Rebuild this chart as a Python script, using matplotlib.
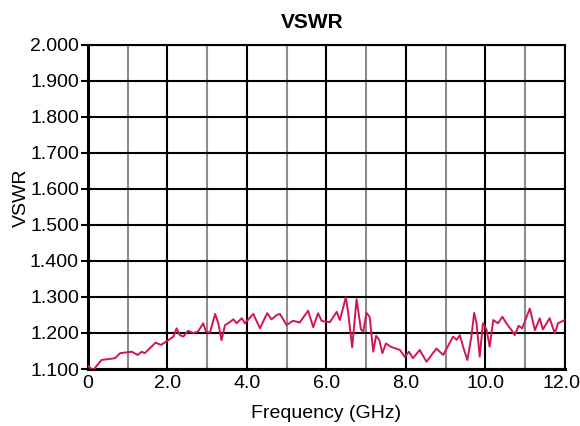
import matplotlib
matplotlib.use("Agg")
import matplotlib.pyplot as plt
from matplotlib.ticker import MultipleLocator, FixedLocator
from matplotlib.transforms import ScaledTranslation

plt.rcParams['font.family'] = ['Liberation Sans', 'DejaVu Sans']

# frequency (GHz) and VSWR
freq = [0.00, 0.13, 0.34, 0.68, 0.81, 1.10, 1.25, 1.35, 1.43, 1.70, 1.84,
        2.02, 2.15, 2.23, 2.31, 2.40, 2.52, 2.65, 2.77, 2.90, 2.97, 3.07,
        3.20, 3.28, 3.36, 3.45, 3.53, 3.66, 3.74, 3.87, 3.95, 4.16, 4.33,
        4.51, 4.62, 4.75, 4.83, 5.00, 5.16, 5.33, 5.54, 5.67, 5.79, 5.88,
        5.94, 6.09, 6.26, 6.34, 6.49, 6.55, 6.65, 6.76, 6.87, 6.93, 7.01,
        7.09, 7.18, 7.25, 7.33, 7.41, 7.50, 7.62, 7.72, 7.85, 7.97, 8.08,
        8.18, 8.35, 8.52, 8.77, 8.94, 9.19, 9.28, 9.36, 9.44, 9.55, 9.65,
        9.72, 9.78, 9.86, 9.94, 10.03, 10.11, 10.20, 10.32, 10.43, 10.53,
        10.66, 10.74, 10.84, 10.93, 11.12, 11.25, 11.37, 11.45, 11.62,
        11.75, 11.83, 11.96, 12.00]
vswr = [1.108, 1.097, 1.125, 1.130, 1.144, 1.148, 1.139, 1.148, 1.144, 1.173, 1.167,
        1.180, 1.190, 1.213, 1.194, 1.190, 1.206, 1.200, 1.204, 1.227, 1.204, 1.201,
        1.253, 1.227, 1.180, 1.222, 1.227, 1.238, 1.227, 1.241, 1.227, 1.253, 1.213,
        1.255, 1.238, 1.250, 1.253, 1.222, 1.234, 1.229, 1.262, 1.216, 1.255, 1.234,
        1.232, 1.230, 1.259, 1.236, 1.299, 1.255, 1.160, 1.294, 1.210, 1.204, 1.256,
        1.245, 1.148, 1.192, 1.181, 1.144, 1.171, 1.162, 1.158, 1.153, 1.134, 1.148,
        1.130, 1.153, 1.120, 1.157, 1.139, 1.190, 1.181, 1.194, 1.162, 1.125, 1.190,
        1.256, 1.227, 1.134, 1.227, 1.210, 1.162, 1.236, 1.227, 1.245, 1.227,
        1.208, 1.194, 1.220, 1.213, 1.268, 1.208, 1.241, 1.210, 1.241,
        1.199, 1.227, 1.234, 1.236]

x_major = [0, 2, 4, 6, 8, 10, 12]
x_labels = ['0', '2.0', '4.0', '6.0', '8.0', '10.0', '12.0']
x_minor = [1, 3, 5, 7, 9, 11]

fig = plt.figure(figsize=(5.8, 4.26), dpi=100)
ax = fig.add_axes([0.1517, 0.1338, 0.822, 0.7606])

ax.plot(freq, vswr, color='#d4145a', linewidth=1.4, zorder=3)

ax.set_xlim(0, 12)
ax.set_ylim(1.1, 2.0)
ax.set_xticks(x_major)
ax.set_xticklabels(x_labels)
ax.xaxis.set_minor_locator(FixedLocator(x_minor))
ax.yaxis.set_major_locator(MultipleLocator(0.1))
ax.yaxis.set_major_formatter(matplotlib.ticker.FormatStrFormatter('%.3f'))

ax.grid(which='major', color='black', linewidth=1.5, zorder=1)
ax.grid(which='minor', axis='x', color='#8c8c8c', linewidth=1.5, zorder=1)
ax.set_axisbelow(True)

ax.tick_params(axis='x', which='both', length=0, labelsize=14, pad=4.5)
ax.tick_params(axis='y', length=5, width=1.5, labelsize=14, pad=1.5)

# nudge the last x label so it stays inside the figure
last = ax.get_xticklabels()[-1]
last.set_transform(last.get_transform() + ScaledTranslation(-3 / 100, 0, fig.dpi_scale_trans))

for side in ['left', 'bottom']:
    ax.spines[side].set_linewidth(2.2)
for side in ['top', 'right']:
    ax.spines[side].set_linewidth(1.5)

ax.set_title('VSWR', fontsize=15, fontweight='bold', pad=12.5, x=0.47)
ax.set_xlabel('Frequency (GHz)', fontsize=14, labelpad=9)
ax.set_ylabel('VSWR', fontsize=14, labelpad=3)
ax.yaxis.set_label_coords(-0.122, 0.53)

fig.savefig('out.png', dpi=100)
